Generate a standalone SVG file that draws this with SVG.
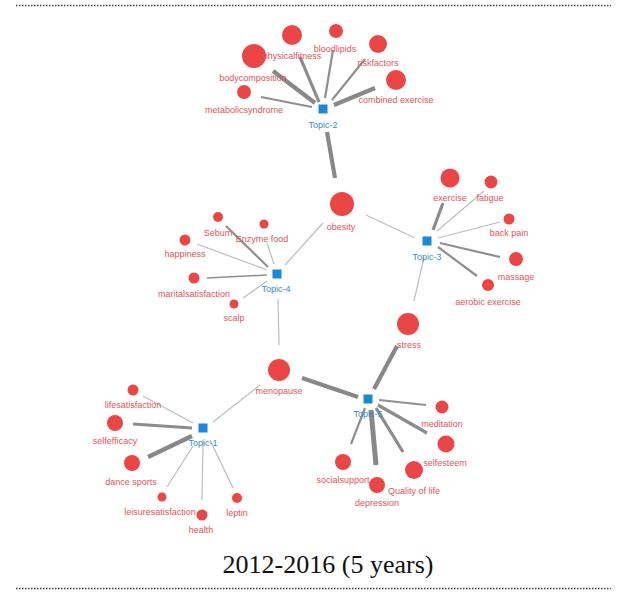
<svg xmlns="http://www.w3.org/2000/svg" width="618" height="595" viewBox="0 0 618 595">
<style>
.n{fill:#ea4646}
.t{fill:#1a8ad4}
.l{font-family:"Liberation Sans",Arial,sans-serif;font-size:9px;fill:#e0545c;text-anchor:middle}
.tl{font-family:"Liberation Sans",Arial,sans-serif;font-size:9px;fill:#3a8cc8;text-anchor:middle}
.e1{stroke:#bdbdbd;stroke-width:1.2;fill:none}
.e2{stroke:#8f8f8f;stroke-width:2.2;fill:none}
.e3{stroke:#8c8c8c;stroke-width:3.2;fill:none}
.e4{stroke:#888;stroke-width:4.2;fill:none}
.dot{stroke:#444;stroke-width:1.5;stroke-dasharray:1.5 1.5;fill:none}
.cap{font-family:"Liberation Serif","Times New Roman",serif;font-size:26px;fill:#111;text-anchor:middle}
</style>
<rect width="618" height="595" fill="#fff"/>
<line class="dot" x1="16" y1="5.5" x2="611" y2="5.5"/>
<line class="dot" x1="16" y1="588.5" x2="611" y2="588.5"/>
<g id="connectors">
<line class="e4" x1="273" y1="71" x2="315" y2="103"/>
<line class="e3" x1="300" y1="57" x2="319" y2="102"/>
<line class="e2" x1="333" y1="50" x2="325" y2="98"/>
<line class="e2" x1="365" y1="59" x2="332" y2="100"/>
<line class="e4" x1="375" y1="88" x2="334" y2="105"/>
<line class="e2" x1="261" y1="97" x2="312" y2="107"/>
<line class="e4" x1="327" y1="132" x2="335" y2="178"/>
<line class="e1" x1="366" y1="215" x2="415" y2="238"/>
<line class="e1" x1="323" y1="223" x2="285" y2="265"/>
<line class="e3" x1="433" y1="230" x2="443" y2="203"/>
<line class="e1" x1="437" y1="231" x2="484" y2="191"/>
<line class="e1" x1="438" y1="238" x2="500" y2="222"/>
<line class="e2" x1="440" y1="243" x2="500" y2="257"/>
<line class="e2" x1="438" y1="247" x2="477" y2="276"/>
<line class="e1" x1="424" y1="257" x2="414" y2="301"/>
<line class="e2" x1="226" y1="226" x2="268" y2="267"/>
<line class="e1" x1="267" y1="243" x2="274" y2="264"/>
<line class="e1" x1="197" y1="244" x2="267" y2="270"/>
<line class="e2" x1="207" y1="278" x2="267" y2="275" style="stroke-width:1.5"/>
<line class="e1" x1="243" y1="298" x2="267" y2="281"/>
<line class="e1" x1="278" y1="299" x2="279" y2="345"/>
<line class="e1" x1="143" y1="396" x2="193" y2="423"/>
<line class="e3" x1="133" y1="424" x2="192" y2="428"/>
<line class="e4" x1="148" y1="457" x2="192" y2="436"/>
<line class="e1" x1="167" y1="487" x2="193" y2="446"/>
<line class="e1" x1="202" y1="500" x2="203" y2="440"/>
<line class="e1" x1="233" y1="488" x2="210" y2="440"/>
<line class="e1" x1="213" y1="422" x2="260" y2="385"/>
<line class="e4" x1="397" y1="346" x2="374" y2="389"/>
<line class="e4" x1="302" y1="378" x2="358" y2="397"/>
<line class="e2" x1="379" y1="400" x2="426" y2="405"/>
<line class="e3" x1="378" y1="405" x2="427" y2="433"/>
<line class="e3" x1="376" y1="408" x2="403" y2="452"/>
<line class="e4" x1="371" y1="410" x2="376" y2="465" style="stroke-width:5"/>
<line class="e2" x1="365" y1="408" x2="351" y2="444"/>
</g>
<g id="topic2"><rect class="t" x="318.5" y="104.5" width="9" height="9"/><text class="tl" x="323" y="128">Topic-2</text></g>
<g id="physicalfitness"><circle class="n" cx="292" cy="35" r="10"/><text class="l" x="292" y="59">physicalfitness</text></g>
<g id="bodycomposition"><circle class="n" cx="254" cy="56" r="12"/><text class="l" x="253" y="81">bodycomposition</text></g>
<g id="bloodlipids"><circle class="n" cx="336" cy="31" r="7"/><text class="l" x="335" y="52">bloodlipids</text></g>
<g id="riskfactors"><circle class="n" cx="378" cy="44" r="9"/><text class="l" x="378" y="66">riskfactors</text></g>
<g id="combinedexercise"><circle class="n" cx="396" cy="80" r="10"/><text class="l" x="396" y="103">combined exercise</text></g>
<g id="metabolicsyndrome"><circle class="n" cx="244" cy="92" r="7"/><text class="l" x="244" y="113">metabolicsyndrome</text></g>
<g id="obesity"><circle class="n" cx="342" cy="204" r="12"/><text class="l" x="341" y="230">obesity</text></g>
<g id="topic3"><rect class="t" x="422.5" y="236.5" width="9" height="9"/><text class="tl" x="427" y="260">Topic-3</text></g>
<g id="exercise"><circle class="n" cx="450" cy="178" r="9.5"/><text class="l" x="450" y="201">exercise</text></g>
<g id="fatigue"><circle class="n" cx="491" cy="182" r="6.5"/><text class="l" x="490" y="201">fatigue</text></g>
<g id="backpain"><circle class="n" cx="509" cy="219" r="5.5"/><text class="l" x="509" y="236">back pain</text></g>
<g id="massage"><circle class="n" cx="516" cy="259" r="7"/><text class="l" x="516" y="280">massage</text></g>
<g id="aerobicexercise"><circle class="n" cx="488" cy="285" r="6"/><text class="l" x="488" y="305">aerobic exercise</text></g>
<g id="topic4"><rect class="t" x="272.5" y="269.5" width="9" height="9"/><text class="tl" x="276" y="292">Topic-4</text></g>
<g id="sebum"><circle class="n" cx="218" cy="217" r="5"/><text class="l" x="218" y="236">Sebum</text></g>
<g id="enzymefood"><circle class="n" cx="264" cy="224" r="4.5"/><text class="l" x="262" y="242">Enzyme food</text></g>
<g id="happiness"><circle class="n" cx="185" cy="240" r="5.5"/><text class="l" x="185" y="257">happiness</text></g>
<g id="maritalsatisfaction"><circle class="n" cx="194" cy="278" r="5.5"/><text class="l" x="194" y="297">maritalsatisfaction</text></g>
<g id="scalp"><circle class="n" cx="234" cy="304" r="4.5"/><text class="l" x="234" y="321">scalp</text></g>
<g id="stress"><circle class="n" cx="408" cy="324" r="11"/><text class="l" x="409" y="348">stress</text></g>
<g id="menopause"><circle class="n" cx="279" cy="370" r="11"/><text class="l" x="279" y="394">menopause</text></g>
<g id="topic1"><rect class="t" x="198.5" y="423.5" width="9" height="9"/><text class="tl" x="203" y="446">Topic-1</text></g>
<g id="lifesatisfaction"><circle class="n" cx="133" cy="390" r="5.5"/><text class="l" x="133" y="408">lifesatisfaction</text></g>
<g id="selfefficacy"><circle class="n" cx="115" cy="423" r="8"/><text class="l" x="115" y="444">selfefficacy</text></g>
<g id="dancesports"><circle class="n" cx="132" cy="463" r="8"/><text class="l" x="131" y="485">dance sports</text></g>
<g id="leisuresatisfaction"><circle class="n" cx="162" cy="497" r="4.5"/><text class="l" x="160" y="515">leisuresatisfaction</text></g>
<g id="health"><circle class="n" cx="202" cy="515" r="5.5"/><text class="l" x="201" y="533">health</text></g>
<g id="leptin"><circle class="n" cx="237" cy="498" r="5"/><text class="l" x="237" y="516">leptin</text></g>
<g id="topic5"><rect class="t" x="363.5" y="394.5" width="9" height="9"/><text class="tl" x="368" y="417">Topic-5</text></g>
<g id="meditation"><circle class="n" cx="442" cy="407" r="6.5"/><text class="l" x="442" y="427">meditation</text></g>
<g id="selfesteem"><circle class="n" cx="446" cy="444" r="8.5"/><text class="l" x="445" y="466">selfesteem</text></g>
<g id="qualityoflife"><circle class="n" cx="414" cy="470" r="9"/><text class="l" x="414" y="494">Quality of life</text></g>
<g id="depression"><circle class="n" cx="377" cy="485" r="8"/><text class="l" x="377" y="506">depression</text></g>
<g id="socialsupport"><circle class="n" cx="343" cy="462" r="8"/><text class="l" x="343" y="483">socialsupport</text></g>
<text class="cap" x="328" y="573">2012-2016 (5 years)</text>
</svg>
